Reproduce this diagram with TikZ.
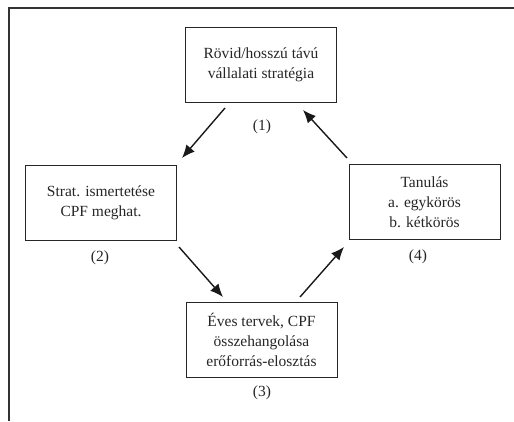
\documentclass[tikz,border=0pt]{standalone}
\usepackage{fontspec}
\setmainfont{Liberation Serif}
\usetikzlibrary{arrows.meta}
\begin{document}
\begin{tikzpicture}[x=1pt,y=1pt,
  box/.style={draw=black!85, line width=0.9pt, minimum width=151pt, minimum height=75pt, align=center, inner sep=0pt, font=\fontsize{15.5}{20}\selectfont, text=black!85},
  lbl/.style={font=\fontsize{15.5}{20}\selectfont, text=black!85, inner sep=0pt},
  arr/.style={line width=1.4pt, draw=black!90, -{Latex[length=13pt,width=11pt]}}]
\useasboundingbox (0,0) rectangle (514,421);
% frame
\draw[line width=2pt, black!80] (514,413) -- (9,413) -- (9,0);
% boxes
\node[box] (b1) at (261,356) {Rövid/hosszú távú\\vállalati stratégia};
\node[box] (b2) at (101,218.5) {Strat. ismertetése\\CPF meghat.};
\node[box] (b4) at (424.5,219) {Tanulás\\a. egykörös\\b. kétkörös};
\node[box] (b3) at (261.5,81.5) {Éves tervek, CPF\\összehangolása\\erőforrás-elosztás};
% labels
\node[lbl] (l1) at (262,294) {(1)};
\node[lbl] (l2) at (100,163) {(2)};
\node[lbl] (l4) at (418,164) {(4)};
\node[lbl] (l3) at (262,28) {(3)};
% arrow ends
\coordinate (a1s) at (225,313);
\coordinate (a1e) at (182,263);
\coordinate (a2s) at (179,174);
\coordinate (a2e) at (223,124);
\coordinate (a3s) at (300,124);
\coordinate (a3e) at (344,174);
\coordinate (a4s) at (347,263);
\coordinate (a4e) at (303,311);
\draw[arr] (a1s) -- (a1e);
\draw[arr] (a2s) -- (a2e);
\draw[arr] (a3s) -- (a3e);
\draw[arr] (a4s) -- (a4e);
\end{tikzpicture}
\end{document}
